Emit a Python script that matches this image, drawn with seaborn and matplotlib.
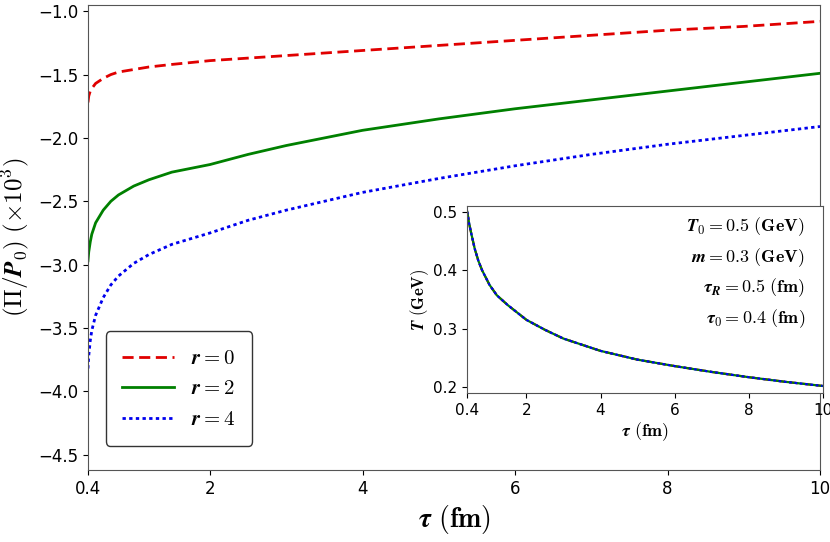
import matplotlib
matplotlib.use("Agg")
import matplotlib.pyplot as plt
import seaborn as sns

plt.rcParams["mathtext.fontset"] = "cm"

tau = [0.4, 0.41, 0.43, 0.45, 0.5, 0.6, 0.7, 0.8, 1.0, 1.2, 1.5, 2.0, 2.5, 3.0, 3.5, 4.0, 5.0, 6.0, 7.0, 8.0, 9.0, 10.0]
r0 = [-1.72, -1.67, -1.63, -1.61, -1.57, -1.53, -1.50, -1.48, -1.46, -1.44, -1.42, -1.39, -1.37, -1.35, -1.33, -1.31, -1.27, -1.23, -1.19, -1.15, -1.12, -1.08]
r2 = [-2.97, -2.90, -2.82, -2.76, -2.67, -2.57, -2.50, -2.45, -2.38, -2.33, -2.27, -2.21, -2.13, -2.06, -2.00, -1.94, -1.85, -1.77, -1.70, -1.63, -1.56, -1.49]
r4 = [-3.82, -3.72, -3.60, -3.52, -3.40, -3.26, -3.16, -3.09, -2.99, -2.92, -2.84, -2.75, -2.65, -2.57, -2.50, -2.43, -2.32, -2.22, -2.13, -2.05, -1.98, -1.91]

tau_T = [0.4, 0.45, 0.5, 0.6, 0.7, 0.8, 1.0, 1.2, 1.5, 2.0, 2.5, 3.0, 4.0, 5.0, 6.0, 7.0, 8.0, 9.0, 10.0]
T_vals = [0.50, 0.48, 0.465, 0.437, 0.416, 0.400, 0.375, 0.357, 0.340, 0.315, 0.298, 0.283, 0.262, 0.247, 0.236, 0.226, 0.217, 0.209, 0.202]

labels = [r"$\boldsymbol{r=0}$", r"$\boldsymbol{r=2}$", r"$\boldsymbol{r=4}$"]
colors = ["#e00000", "#008000", "#0000ee"]
styles = [(0, (4, 2)), "-", (0, (1.2, 1.2))]

fig = plt.figure(figsize=(8.3, 5.42), dpi=100)
ax = fig.add_axes([0.106, 0.133, 0.882, 0.858])
for ys, lab, c, ls in zip([r0, r2, r4], labels, colors, styles):
    sns.lineplot(x=tau, y=ys, ax=ax, color=c, linestyle=ls, lw=2, label=lab)
ax.set_xlim(0.4, 10)
ax.set_ylim(-4.62, -0.95)
ax.set_xticks([0.4, 2, 4, 6, 8, 10])
ax.set_xticklabels(["0.4", "2", "4", "6", "8", "10"])
ax.set_yticks([-4.5, -4.0, -3.5, -3.0, -2.5, -2.0, -1.5, -1.0])
ax.tick_params(labelsize=12)
ax.set_xlabel(r"$\boldsymbol{\tau}$ $\mathbf{(fm)}$", fontsize=20)
ax.set_ylabel(r"$\mathbf{(\Pi/}\boldsymbol{P}_\mathbf{0}\mathbf{)\ (\times 10^3)}$", fontsize=18)
leg = ax.legend(loc="lower left", bbox_to_anchor=(0.01, 0.03), fontsize=15, frameon=True,
                fancybox=True, edgecolor="black", handlelength=2.5, borderpad=0.8)
leg.get_frame().set_linewidth(1)

ins = fig.add_axes([0.563, 0.275, 0.428, 0.345])
for c, ls in zip(colors, styles):
    sns.lineplot(x=tau_T, y=T_vals, ax=ins, color=c, linestyle=ls, lw=1.6)
ins.set_xlim(0.4, 10)
ins.set_ylim(0.19, 0.51)
ins.set_xticks([0.4, 2, 4, 6, 8, 10])
ins.set_xticklabels(["0.4", "2", "4", "6", "8", "10"])
ins.set_yticks([0.2, 0.3, 0.4, 0.5])
ins.tick_params(labelsize=11)
ins.set_xlabel(r"$\boldsymbol{\tau}$ $\mathbf{(fm)}$", fontsize=13, labelpad=2)
ins.set_ylabel(r"$\boldsymbol{T}$ $\mathbf{(GeV)}$", fontsize=12, labelpad=2)
txt = (r"$\boldsymbol{T}_\mathbf{0}\mathbf{=0.5\ (GeV)}$" "\n"
       r"$\boldsymbol{m}\mathbf{=0.3\ (GeV)}$" "\n"
       r"$\boldsymbol{\tau}_\boldsymbol{R}\mathbf{=0.5\ (fm)}$" "\n"
       r"$\boldsymbol{\tau}_\mathbf{0}\mathbf{=0.4\ (fm)}$")
ins.text(0.95, 0.95, txt, transform=ins.transAxes, ha="right", va="top", fontsize=13, linespacing=1.5)
for a in (ax, ins):
    for s in a.spines.values():
        s.set_color("#555555")
fig.savefig("out.png", dpi=100)
